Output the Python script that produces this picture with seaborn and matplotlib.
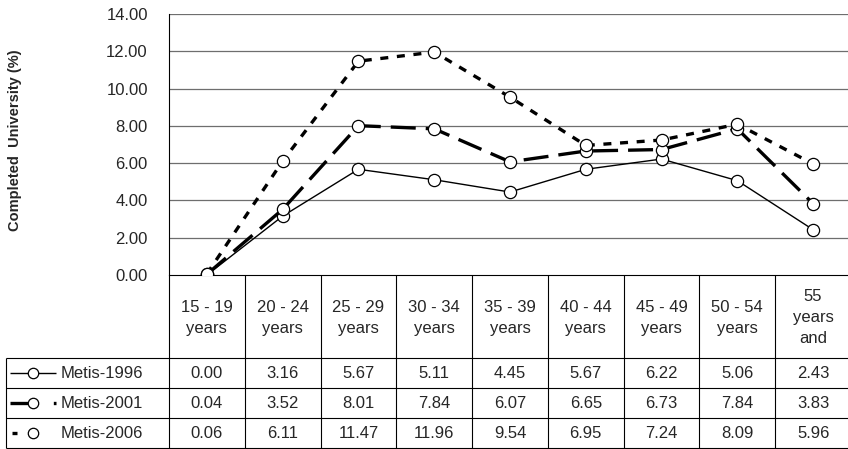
import numpy as np
import pandas as pd
import matplotlib
matplotlib.use("Agg")
import matplotlib.pyplot as plt
import seaborn as sns

categories = ["15 - 19\nyears", "20 - 24\nyears", "25 - 29\nyears", "30 - 34\nyears",
              "35 - 39\nyears", "40 - 44\nyears", "45 - 49\nyears", "50 - 54\nyears",
              "55\nyears\nand"]
series_names = ["Metis-1996", "Metis-2001", "Metis-2006"]
metis_1996 = [0.00, 3.16, 5.67, 5.11, 4.45, 5.67, 6.22, 5.06, 2.43]
metis_2001 = [0.04, 3.52, 8.01, 7.84, 6.07, 6.65, 6.73, 7.84, 3.83]
metis_2006 = [0.06, 6.11, 11.47, 11.96, 9.54, 6.95, 7.24, 8.09, 5.96]
y_ticks = [0, 2, 4, 6, 8, 10, 12, 14]
y_label = "Completed  University (%)"

sns.set_style("white")
plt.rcParams['font.family'] = ['Liberation Sans', 'DejaVu Sans']

FS = 12
W, H = 848, 449
fig = plt.figure(figsize=(W / 100, H / 100), dpi=100)
ax_l, ax_r, ax_t, ax_b = 169, 851, 14, 275
ax = fig.add_axes([ax_l / W, 1 - ax_b / H, (ax_r - ax_l) / W, (ax_b - ax_t) / H])

styles = {
    "Metis-1996": dict(lw=1.0, dashes=None, key=None),
    "Metis-2001": dict(lw=2.4, dashes=(7.5, 3), key=(5.4, 7.6, 0.9, 20)),
    "Metis-2006": dict(lw=2.4, dashes=(2.4, 2.6), key=(1.5, 20)),
}
values = {"Metis-1996": metis_1996, "Metis-2001": metis_2001, "Metis-2006": metis_2006}
xs = np.arange(len(categories))
zord = {"Metis-1996": 3, "Metis-2001": 4, "Metis-2006": 5}
for name in series_names:
    df = pd.DataFrame({"x": xs, "y": values[name]})
    st = styles[name]
    sns.lineplot(data=df, x="x", y="y", ax=ax, color="black", lw=st["lw"],
                 marker="o", markersize=8.8, markerfacecolor="white",
                 markeredgecolor="black", markeredgewidth=0.9, zorder=zord[name])
    line = ax.lines[-1]
    if st["dashes"] is not None:
        line.set_dashes(st["dashes"])

ax.set_xlim(-0.5, len(categories) - 0.5)
ax.set_ylim(0, 14)
ax.set_yticks(y_ticks)
ax.set_yticklabels([f"{v:.2f}" for v in y_ticks], fontsize=FS)
ax.set_xticks([])
ax.set_xlabel("")
ax.set_ylabel("")
for v in y_ticks[1:]:
    ax.axhline(v, color="#6e6e6e", lw=0.9, zorder=1)
ax.tick_params(axis="y", direction="out", length=4.3, width=0.8, color="black", pad=11)
for s in ["top", "right"]:
    ax.spines[s].set_visible(False)
ax.spines["left"].set_color("black")
ax.spines["left"].set_linewidth(0.8)
ax.spines["bottom"].set_color("black")
ax.spines["bottom"].set_linewidth(0.8)

fig.text(15 / W, 1 - 140 / H, y_label, rotation=90, ha="center", va="center",
         fontsize=10.5, fontweight="bold")

# table
tax = fig.add_axes([0, 0, 1, 1], zorder=-1)
tax.set_xlim(0, W)
tax.set_ylim(H, 0)
tax.axis("off")
n = len(categories)
cw = (ax_r - ax_l) / n
hdr_top, hdr_bot = 275, 358
row_h = 30
rows_y = [hdr_bot + i * row_h for i in range(len(series_names) + 1)]
tab_left = 6
lc = dict(color="black", lw=0.8, solid_capstyle="butt")
for i in range(n + 1):
    x = ax_l + i * cw
    tax.plot([x, x], [hdr_top, rows_y[-1]], **lc)
tax.plot([tab_left, tab_left], [hdr_bot, rows_y[-1]], **lc)
for yv in rows_y:
    tax.plot([tab_left, W], [yv, yv], **lc)

for i, lab in enumerate(categories):
    tax.text(ax_l + (i + 0.5) * cw, (hdr_top + hdr_bot) / 2 + 1, lab, ha="center",
             va="center", fontsize=FS, linespacing=1.5)

for r, name in enumerate(series_names):
    yc = rows_y[r] + row_h / 2
    st = styles[name]
    x0 = 10 if name != "Metis-2006" else 12
    kl = tax.plot([x0, 56], [yc, yc], color="black", lw=st["lw"],
                  solid_capstyle="butt", dash_capstyle="butt")[0]
    if st["key"] is not None:
        kl.set_dashes(st["key"])
    tax.plot([33], [yc], marker="o", markersize=7.5, markerfacecolor="white",
             markeredgecolor="black", markeredgewidth=0.9, ls="none")
    tax.text(61, yc + 1, name, ha="left", va="center", fontsize=FS)
    for i, v in enumerate(values[name]):
        tax.text(ax_l + (i + 0.5) * cw, yc + 1, f"{v:.2f}", ha="center", va="center",
                 fontsize=FS)

fig.savefig("out.png", dpi=100)
